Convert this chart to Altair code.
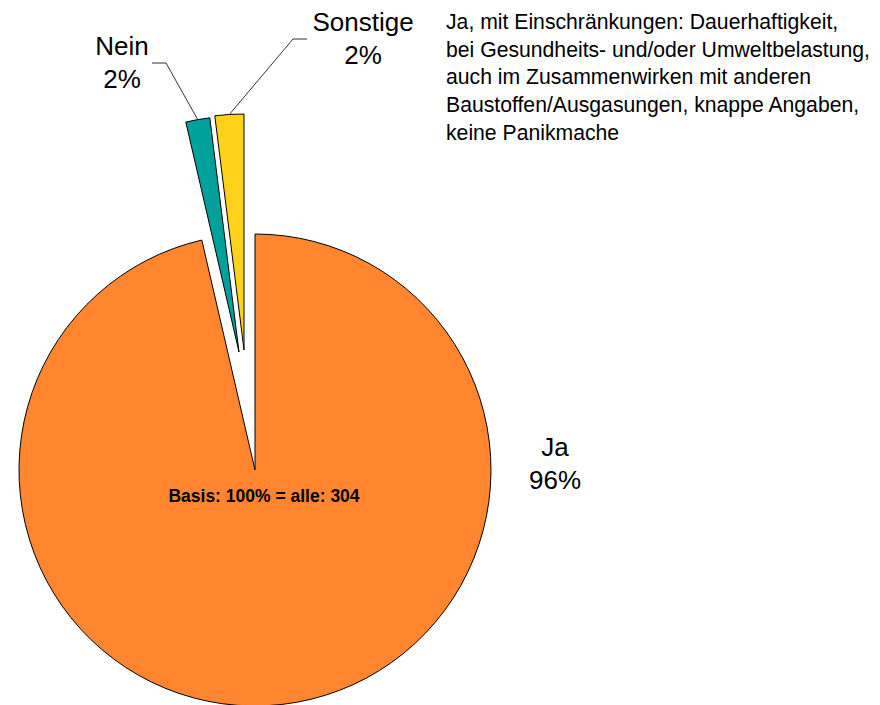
import math
import pandas as pd
import altair as alt

# ---- data ----
categories = ["Ja", "Nein", "Sonstige"]
counts = [293, 5, 6]
base_text = "Basis: 100% = alle: 304"
note_lines = [
    "Ja, mit Einschränkungen: Dauerhaftigkeit,",
    "bei Gesundheits- und/oder Umweltbelastung,",
    "auch im Zusammenwirken mit anderen",
    "Baustoffen/Ausgasungen, knappe Angaben,",
    "keine Panikmache",
]

# ---- style / layout ----
colors = ["#FF862F", "#00A19A", "#FFD11A"]
M = 8  # page margin
CX, CY = 255 - M, 470 - M
R = 236
explode = {"Ja": (0, 0), "Nein": (-16, -118), "Sonstige": (-11, -120)}
label_pos = {"Ja": (555, 456), "Nein": (122, 55), "Sonstige": (363, 31)}
elbows = {"Nein": [(152, 63), (166, 63)], "Sonstige": [(307, 39), (293, 39)]}
FONT = "Liberation Sans"

total = sum(counts)
rows = []
cum = 0
for i, (c, n) in enumerate(zip(categories, counts)):
    start = cum
    cum += n
    mid = (start + cum) / 2 / total * 2 * math.pi
    ox, oy = explode[c]
    rows.append(dict(category=c, count=n, order=i,
                     cx=CX + ox, cy=CY + oy, mid=mid,
                     label=f"{c}\n{round(n / total * 100)}%"))
df = pd.DataFrame(rows)

arcs = alt.Chart(df).transform_window(
    end="sum(count)", sort=[alt.SortField("order")], frame=[None, 0]
).transform_calculate(
    start="datum.end - datum.count"
).mark_arc(radius=R, stroke="black", strokeWidth=1).encode(
    theta=alt.Theta("start:Q", scale=alt.Scale(domain=[0, total], range=[0, 2 * math.pi])),
    theta2="end:Q",
    color=alt.Color("category:N", scale=alt.Scale(domain=categories, range=colors), legend=None),
    x=alt.X("cx:Q", scale=None, axis=None),
    y=alt.Y("cy:Q", scale=None, axis=None),
)

# leader lines
lrows = []
for r in rows:
    if r["category"] in elbows:
        pts = [(x - M, y - M) for x, y in elbows[r["category"]]]
        pts.append((r["cx"] + R * math.sin(r["mid"]), r["cy"] - R * math.cos(r["mid"])))
        for s, (px, py) in enumerate(pts):
            lrows.append(dict(category=r["category"], seq=s, px=px, py=py))
ldf = pd.DataFrame(lrows)
leaders = alt.Chart(ldf).mark_line(color="#333333", strokeWidth=1).encode(
    x=alt.X("px:Q", scale=None, axis=None),
    y=alt.Y("py:Q", scale=None, axis=None),
    detail="category:N",
    order="seq:Q",
)

# slice labels
tdf = df.copy()
tdf["lx"] = [label_pos[c][0] - M for c in tdf["category"]]
tdf["ly"] = [label_pos[c][1] - M for c in tdf["category"]]
labels = alt.Chart(tdf).mark_text(
    font=FONT, fontSize=26, align="center", baseline="alphabetic",
    lineBreak="\n", lineHeight=33, color="black"
).encode(
    x=alt.X("lx:Q", scale=None, axis=None),
    y=alt.Y("ly:Q", scale=None, axis=None),
    text="label:N",
)

note = alt.Chart(pd.DataFrame({"t": ["\n".join(note_lines)]})).mark_text(
    font=FONT, fontSize=21.2, align="left", baseline="alphabetic",
    lineBreak="\n", lineHeight=27.7, color="black"
).encode(
    x=alt.value(446 - M), y=alt.value(29 - M), text="t:N"
)

basis = alt.Chart(pd.DataFrame({"t": [base_text]})).mark_text(
    font=FONT, fontSize=17.5, fontWeight="bold", align="center",
    baseline="alphabetic", color="black"
).encode(
    x=alt.value(264 - M), y=alt.value(502 - M), text="t:N"
)

chart = alt.layer(arcs, leaders, labels, note, basis).properties(
    width=864, height=697, padding=0, autosize="none"
).configure_view(stroke=None)

chart.save("out.html", embed_options={"renderer": "svg", "actions": False})
